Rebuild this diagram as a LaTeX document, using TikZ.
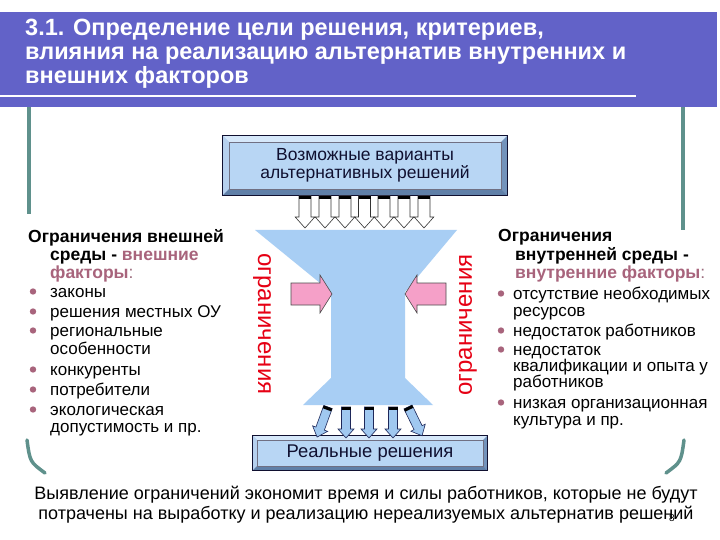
\documentclass[tikz,border=0pt]{standalone}
\usepackage{fontspec}
\setmainfont{Liberation Sans}
\usetikzlibrary{calc}
\definecolor{band}{RGB}{98,98,200}
\definecolor{tealc}{RGB}{95,145,140}
\definecolor{mauve}{RGB}{168,100,124}
\definecolor{funnelc}{RGB}{168,206,244}
\definecolor{pinkf}{RGB}{245,160,200}
\definecolor{facec}{RGB}{184,214,244}
\definecolor{bevlight}{RGB}{214,232,250}
\definecolor{bevmid}{RGB}{160,192,230}
\definecolor{bevdark}{RGB}{96,128,168}
\definecolor{redtxt}{RGB}{230,0,20}
\definecolor{navytxt}{RGB}{16,16,48}
\definecolor{arrblue}{RGB}{160,200,240}
\definecolor{arrline}{RGB}{30,40,90}
\newcommand\fsz[1]{\fontsize{#1}{#1}\selectfont}
\newcommand\bevbox[2]{%
  \fill[bevlight] (#1.north west) -- (#1.north east) -- ($(#1.north east)+(-#2,#2)$) -- ($(#1.north west)+(#2,#2)$) -- cycle;
  \fill[bevmid!60!bevlight] (#1.north west) -- ($(#1.north west)+(#2,#2)$) -- ($(#1.south west)+(#2,-#2)$) -- (#1.south west) -- cycle;
  \fill[bevdark!70!bevmid] (#1.north east) -- ($(#1.north east)+(-#2,#2)$) -- ($(#1.south east)+(-#2,-#2)$) -- (#1.south east) -- cycle;
  \fill[bevdark] (#1.south west) -- ($(#1.south west)+(#2,-#2)$) -- ($(#1.south east)+(-#2,-#2)$) -- (#1.south east) -- cycle;
  \draw[navytxt,line width=0.8] (#1.north west) rectangle (#1.south east);
  \draw[navytxt!60,line width=0.4] ($(#1.north west)+(#2,#2)$) rectangle ($(#1.south east)+(-#2,-#2)$);
}
\tikzset{
  pics/dnarrow/.style n args={4}{code={%
    \draw[pic actions] (-#1,0) -- (#1,0) -- (#1,#3-#4) -- (#2,#3-#4) -- (0,#3) -- (-#2,#3-#4) -- (-#1,#3-#4) -- cycle;
    \fill[black] (-#1,0) rectangle (#1,3);
  }},
  txt/.style={anchor=base west,inner sep=0pt,font=\fsz{17}},
  hd/.style={anchor=base west,inner sep=0pt,font=\bfseries\fsz{17.5}},
  ttl/.style={anchor=base west,inner sep=0pt,text=white,font=\bfseries\fsz{23.5}},
  boxface/.style={fill=facec,inner sep=0pt,text=navytxt,align=center},
  pinkarrow/.style={fill=pinkf,draw=black!70,line width=0.6,line join=miter},
  toparr/.style={fill=white,draw=black!80,line width=0.6},
  botarr/.style={fill=arrblue,draw=arrline,line width=0.6}
}
\begin{document}
\begin{tikzpicture}[x=1pt,y=-1pt]
\useasboundingbox (0,0) rectangle (720,540);
\fill[white] (0,0) rectangle (720,540);
% title band
\fill[band] (0,12) rectangle (717,107);
\fill[white] (0,95.5) rectangle (636,97.5);
\node[ttl] (t1) at (25,36) {3.1. Определение цели решения, критериев,};
\node[ttl] (t2) at (25,60) {влияния на реализацию альтернатив внутренних и};
\node[ttl] (t3) at (25,84) {внешних факторов};
% teal lines
\draw[tealc,line width=4] (29,107) -- (29,214);
\draw[tealc,line width=4] (683,107) -- (683,230);
\draw[tealc,line width=3.5,line cap=round] (27,440) .. controls (30,462) .. (45,473);
\draw[tealc,line width=3.5,line cap=round] (684,440) .. controls (681,462) .. (666,473);
% funnel
\fill[funnelc] (255,230) -- (457,230) -- (405,292) -- (405,378) -- (433,405) -- (303,405) -- (331,378) -- (331,292) -- cycle;
% top box
\node[boxface,minimum width=284,minimum height=59,font=\fsz{17.5}] (top) at (365,165.5) {Возможные варианты\\[0pt]альтернативных решений};
\bevbox{top}{6}
% top arrows
\foreach \cx in {305,325,345,364.5,384,404,424}{
  \pic[toparr] at (\cx,196) {dnarrow={6}{9.8}{32}{11}};
}
% pink arrows
\draw[pinkarrow] (291,283) -- (320,283) -- (320,275) -- (332,294) -- (320,313) -- (320,305) -- (291,305) -- cycle;
\draw[pinkarrow] (446,283) -- (417,283) -- (417,275) -- (405,294) -- (417,313) -- (417,305) -- (446,305) -- cycle;
% rotated labels
\node[rotate=-90,text=redtxt,font=\fsz{24},inner sep=0pt] (ogrL) at (262,324) {ограничения};
\node[rotate=90,text=redtxt,font=\fsz{24},inner sep=0pt] (ogrR) at (468,325) {ограничения};
% bottom box
\node[boxface,minimum width=234,minimum height=34,font=\fsz{18.4}] (bot) at (370,453) {Реальные решения};
\bevbox{bot}{4}
% bottom arrows
\pic[botarr,rotate=-20] at (328,407) {dnarrow={4.5}{8}{32}{9}};
\pic[botarr] at (346,407) {dnarrow={4.5}{8}{31}{9}};
\pic[botarr] at (369,407) {dnarrow={4.5}{8}{31}{9}};
\pic[botarr] at (393,407) {dnarrow={4.5}{8}{31}{9}};
\pic[botarr,rotate=26] at (408,407) {dnarrow={4.5}{8}{32}{9}};
% left block
\node[hd] (l1) at (28,243) {Ограничения внешней};
\node[hd] (l2) at (50,260) {среды - \textcolor{mauve}{внешние}};
\node[hd] (l3) at (50,278) {\textcolor{mauve}{факторы}\textcolor{mauve!70!gray}{\mdseries:}};
\foreach \y/\t [count=\i] in {297/законы,317/решения местных ОУ,336/региональные,375/конкуренты,395/потребители,415/экологическая}{
  \fill[mauve] (33,\y-5.5) circle (3.2);
  \node[txt] (li\i) at (50,\y) {\t};
}
\node[txt] (lw1) at (50,354) {особенности};
\node[txt] (lw2) at (50,432) {допустимость и пр.};
% right block
\node[hd] (r1) at (498,241) {Ограничения};
\node[hd] (r2) at (515,260) {внутренней среды -};
\node[hd] (r3) at (515,278) {\textcolor{mauve}{внутренние факторы}\textcolor{mauve!70!gray}{\mdseries:}};
\foreach \y/\t [count=\i] in {299/отсутствие необходимых,336/недостаток работников,355/недостаток,408/низкая организационная}{
  \fill[mauve] (501,\y-5.5) circle (3.2);
  \node[txt] (ri\i) at (513,\y) {\t};
}
\node[txt] (rw1) at (513,316) {ресурсов};
\node[txt] (rw2) at (513,371) {квалификации и опыта у};
\node[txt] (rw3) at (513,387) {работников};
\node[txt] (rw4) at (513,425) {культура и пр.};
% bottom text
\node[anchor=base,inner sep=0pt,font=\fsz{18}] (b1) at (366,499) {Выявление ограничений экономит время и силы работников, которые не будут};
\node[anchor=base,inner sep=0pt,font=\fsz{18}] (b2) at (366,519) {потрачены на выработку и реализацию нереализуемых альтернатив решений};
\node[inner sep=0pt,font=\fsz{10}] (pg) at (672,518) {8};
\end{tikzpicture}
\end{document}
